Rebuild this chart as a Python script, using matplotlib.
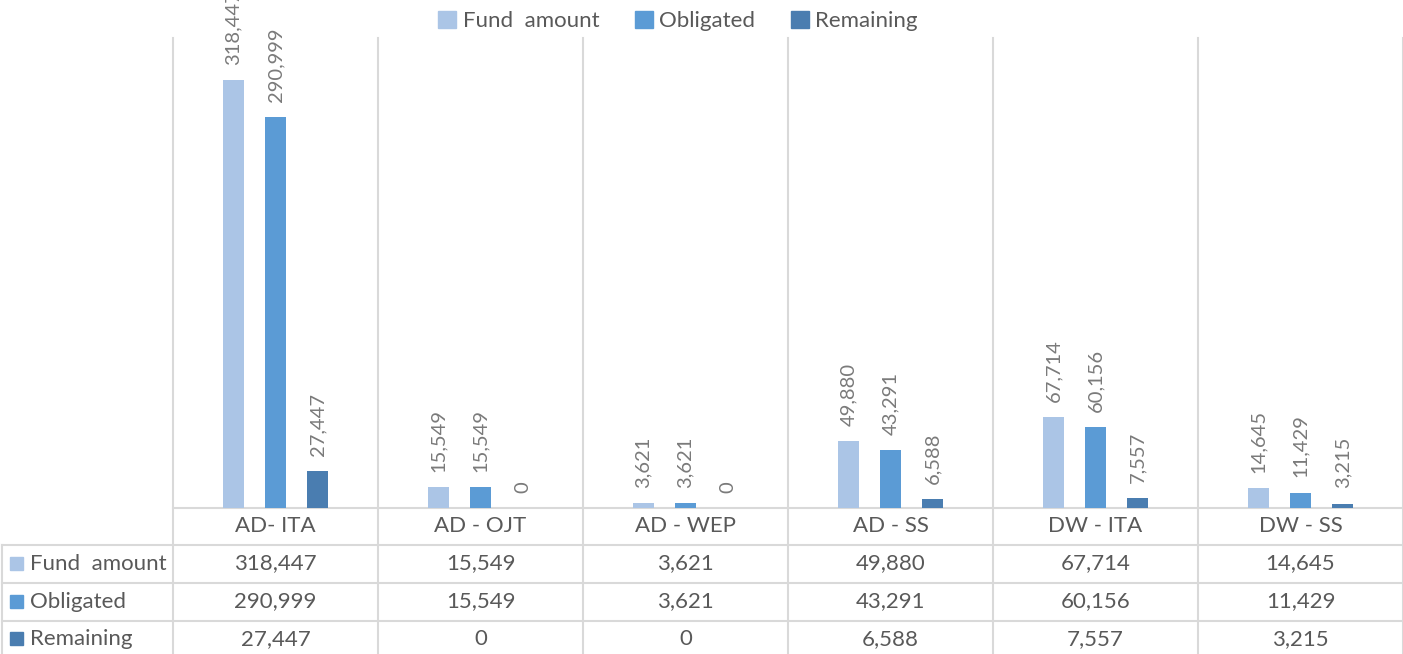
import numpy as np
import matplotlib.pyplot as plt
from matplotlib.patches import Patch

plt.rcParams['font.family'] = ['Lato', 'DejaVu Sans']

categories = ['AD- ITA', 'AD - OJT', 'AD - WEP', 'AD - SS', 'DW - ITA', 'DW - SS']
series = ['Fund  amount', 'Obligated', 'Remaining']
fund_amount = [318447, 15549, 3621, 49880, 67714, 14645]
obligated = [290999, 15549, 3621, 43291, 60156, 11429]
remaining = [27447, 0, 0, 6588, 7557, 3215]
colors = ['#abc5e6', '#5b9bd5', '#4a7db0']

W, H = 1403, 654
fig = plt.figure(figsize=(W / 100, H / 100), dpi=100)
txt = '#595959'
lbl = '#7a7a7a'
grid = '#d9d9d9'

# pixel layout
left, right = 173, 1403
base, top = 508, 38
rows_y = [508, 545, 583, 621, 654]

ax = fig.add_axes([left / W, 1 - base / H, (right - left) / W, (base - top) / H])
x = np.arange(len(categories))
bw, off = 0.107, 0.205
for k, (vals, c) in enumerate(zip([fund_amount, obligated, remaining], colors)):
    xs = x + (k - 1) * off
    ax.bar(xs, vals, width=bw, color=c, zorder=3)
    for xi, v in zip(xs, vals):
        ax.annotate(f'{v:,}', (xi, v), xytext=(0, 11), textcoords='offset points',
                    rotation=90, ha='center', va='bottom', color=lbl, fontsize=14.5,
                    annotation_clip=False)
ax.set_xlim(-0.5, len(categories) - 0.5)
ax.set_ylim(0, 350000)
ax.axis('off')

# overlay axes in pixel coordinates for grid lines and the data table
ov = fig.add_axes([0, 0, 1, 1], zorder=-1)
ov.set_xlim(0, W)
ov.set_ylim(H, 0)
ov.axis('off')
col_w = (right - left) / len(categories)
for i in range(len(categories) + 1):
    xv = left + i * col_w
    ov.plot([xv, xv], [top, H], color=grid, lw=1.5)
ov.plot([left, right], [base, base], color=grid, lw=1.5)
for yy in rows_y[1:-1]:
    ov.plot([2, right], [yy, yy], color=grid, lw=1.5)
ov.plot([2, 2], [rows_y[1], H], color=grid, lw=1.5)

for i, cat in enumerate(categories):
    cx = left + (i + 0.5) * col_w
    ov.text(cx, (rows_y[0] + rows_y[1]) / 2, cat, ha='center', va='center',
            fontsize=16, color=txt)
row_mid = [563.5, 601.5, 639]
for r, (name, vals, c) in enumerate(zip(series, [fund_amount, obligated, remaining], colors)):
    ym = row_mid[r]
    ov.add_patch(plt.Rectangle((10, ym - 7), 13, 13, color=c))
    ov.text(30, ym, name, ha='left', va='center', fontsize=16, color=txt)
    for i, v in enumerate(vals):
        cx = left + (i + 0.5) * col_w
        ov.text(cx, ym, f'{v:,}', ha='center', va='center', fontsize=16, color=txt)

handles = [Patch(color=c, label=s) for s, c in zip(series, colors)]
fig.legend(handles=handles, loc='center', bbox_to_anchor=(678 / W, 1 - 21 / H), ncol=3,
           frameon=False, fontsize=16, labelcolor=txt, handlelength=0.8, handleheight=0.8,
           handletextpad=0.3, columnspacing=1.6)

fig.savefig('out.png', dpi=100)
